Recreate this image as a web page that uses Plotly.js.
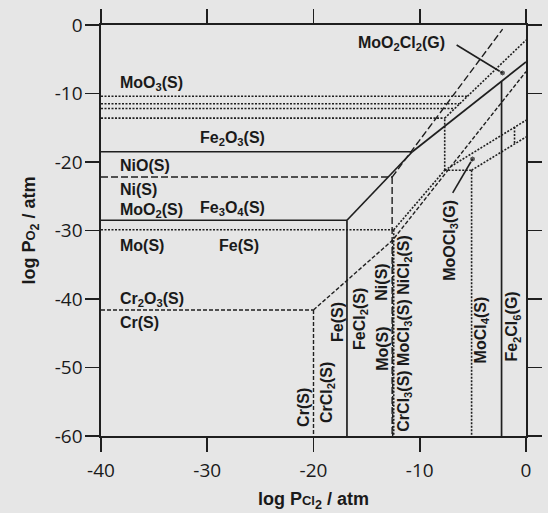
<!DOCTYPE html>
<html><head><meta charset="utf-8">
<script src="https://cdn.plot.ly/plotly-3.0.1.min.js"></script>
<style>html,body{margin:0;padding:0;background:#e6e6e6;} #chart{width:548px;height:513px;}</style>
</head><body><div id="chart"></div>
<script>
// ---- Fe system (solid lines) ----
const feHemMagX = [-40, -10.7],  feHemMagY = [-18.5, -18.5];
const feMagFeX  = [-40, -16.85], feMagFeY  = [-28.5, -28.5];
const feMagClX  = [-16.85, -10.7], feMagClY = [-28.5, -18.5];
const feHemClX  = [-10.7, -2.3, 0], feHemClY = [-18.5, -8.2, -5.4];
const feFeClX   = [-16.85, -16.85], feFeClY = [-28.5, -60];
const feClGasX  = [-2.3, -2.3], feClGasY = [-8.2, -60];
// ---- Ni system (long dashes) ----
const niOxX  = [-40, -12.6], niOxY  = [-22.2, -22.2];
const niClX  = [-12.6, -2.2], niClY = [-22.2, -0.6];
const niVX   = [-12.6, -12.6], niVY = [-22.2, -60];
// ---- Cr system (short dashes) ----
const crOxX  = [-40, -20], crOxY = [-41.6, -41.6];
const crVX   = [-20, -20], crVY  = [-41.6, -60];
const crClX  = [-20, -12.55, 0], crClY = [-41.6, -31.4, -6.8];
const crV2X  = [-12.55, -12.55], crV2Y = [-31.4, -60];
// ---- Mo system (dotted) ----
const moOxLevels = [-10.4, -11.5, -12.2, -13.6];
const moOxEnds   = [-5.5, -6.24, -6.71, -7.65];
const moMo2X  = [-40, -12.45], moMo2Y = [-29.9, -29.9];
const moCl3X  = [-12.45, -7.65], moCl3Y = [-29.9, -21.2];
const moV1X   = [-7.65, -7.65], moV1Y = [-21.2, -13.6];
const moO2Cl2X = [-7.65, 0], moO2Cl2Y = [-13.6, -2.2];
const moVMoX  = [-12.45, -12.45], moVMoY = [-29.9, -60];
const moHX    = [-7.65, -5.12], moHY = [-21.2, -21.2];
const moV2X   = [-5.12, -5.12], moV2Y = [-21.2, -60];
const moUp1X  = [-7.65, 0], moUp1Y = [-21.2, -13.9];
const moUp2X  = [-5.12, 0], moUp2Y = [-21.2, -16.35];
const moShortX = [-1.08, -1.08], moShortY = [-14.9, -17.3];
// ---- leader lines ----
const leadAX = [-6.53, -2.21], leadAY = [-2.92, -7.0];
const leadBX = [-6.9, -5.03],  leadBY = [-24.5, -19.56];
// ---- labels ----
const hLabels = ['MoO<sub>3</sub>(S)','Fe<sub>2</sub>O<sub>3</sub>(S)','NiO(S)','Ni(S)','MoO<sub>2</sub>(S)','Fe<sub>3</sub>O<sub>4</sub>(S)','Mo(S)','Fe(S)','Cr<sub>2</sub>O<sub>3</sub>(S)','Cr(S)','MoO<sub>2</sub>Cl<sub>2</sub>(G)'];
const hLabelX = [-38.36,-30.85,-38.36,-38.36,-38.36,-30.85,-38.36,-29.1,-38.36,-38.36,-16.0];
const hLabelY = [-8.47,-16.64,-20.44,-23.95,-27.05,-26.75,-32.2,-32.2,-40.0,-43.5,-2.63];
const vLabels = ['Cr(S)','CrCl<sub>2</sub>(S)','Fe(S)','FeCl<sub>2</sub>(S)','Mo(S)','Ni(S)','CrCl<sub>3</sub>(S) MoCl<sub>3</sub>(S) NiCl<sub>2</sub>(S)','MoOCl<sub>3</sub>(G)','MoCl<sub>4</sub>(S)','Fe<sub>2</sub>Cl<sub>6</sub>(G)'];
const vLabelX = [-21.0,-18.73,-17.79,-15.63,-13.57,-13.57,-11.41,-7.18,-4.18,-1.27];
const vLabelY = [-55.77,-53.58,-43.36,-42.92,-47.3,-37.5,-45.1,-31.4,-44.5,-44.1];
const xTicks = [-40,-30,-20,-10,0];
const xTickText = ['-40','-30','-20','-10','0'];
const yTicks = [0,-10,-20,-30,-40,-50,-60];
const yTickText = ['0','-10','-20','-30','-40','-50','-60'];

const ink = '#1f1f1f';
const solid = {color: ink, width: 1.7};
const longDash = {color: ink, width: 1.4, dash: '7px,3px'};
const shortDash = {color: ink, width: 1.4, dash: '4px,2px'};
const dotted = {color: ink, width: 1.6, dash: '2px,1.5px'};

const traces = [];
function seg(x, y, line){ traces.push({type:'scatter', mode:'lines', x:x, y:y, line:line, hoverinfo:'skip', showlegend:false}); }
seg(feHemMagX, feHemMagY, solid); seg(feMagFeX, feMagFeY, solid); seg(feMagClX, feMagClY, solid);
seg(feHemClX, feHemClY, solid); seg(feFeClX, feFeClY, solid); seg(feClGasX, feClGasY, solid);
seg(niOxX, niOxY, longDash); seg(niClX, niClY, longDash); seg(niVX, niVY, longDash);
seg(crOxX, crOxY, shortDash); seg(crVX, crVY, shortDash); seg(crClX, crClY, shortDash); seg(crV2X, crV2Y, shortDash);
moOxLevels.forEach((lv, i) => seg([-40, moOxEnds[i]], [lv, lv], dotted));
seg(moMo2X, moMo2Y, dotted); seg(moCl3X, moCl3Y, dotted); seg(moV1X, moV1Y, dotted); seg(moO2Cl2X, moO2Cl2Y, dotted);
seg(moVMoX, moVMoY, dotted); seg(moHX, moHY, dotted); seg(moV2X, moV2Y, dotted);
seg(moUp1X, moUp1Y, dotted); seg(moUp2X, moUp2Y, dotted); seg(moShortX, moShortY, dotted);
[[leadAX, leadAY],[leadBX, leadBY]].forEach(([x,y]) => traces.push({type:'scatter', mode:'lines+markers', x:x, y:y,
  line:{color:ink, width:1.6}, marker:{size:[0,6], color:ink}, hoverinfo:'skip', showlegend:false}));

const lblFont = {family:'Liberation Sans, Arial, sans-serif', size:16, color:'#1a1a1a'};
const annotations = [];
hLabels.forEach((t,i) => annotations.push({x:hLabelX[i], y:hLabelY[i], xref:'x', yref:'y', text:'<b>'+t+'</b>', showarrow:false, xanchor:'left', yanchor:'middle', font:lblFont}));
vLabels.forEach((t,i) => annotations.push({x:vLabelX[i], y:vLabelY[i], xref:'x', yref:'y', text:'<b>'+t+'</b>', showarrow:false, textangle:-90, xanchor:'center', yanchor:'middle', font:lblFont}));

const tickFont = {family:'Open Sans, Noto Sans, sans-serif', size:19, color:'#1a1a1a'};
const titleFont = {family:'Liberation Sans, Arial, sans-serif', size:18, color:'#1a1a1a'};
const axisCommon = {showline:true, linecolor:ink, linewidth:1.6, mirror:'ticks', ticks:'outside', ticklen:14, tickwidth:1.6, tickcolor:ink,
  showgrid:false, zeroline:false, tickfont:tickFont};

const layout = {
  width:548, height:513, margin:{l:100.5, r:21.5, t:25, b:77},
  paper_bgcolor:'#e6e6e6', plot_bgcolor:'#e6e6e6', showlegend:false,
  xaxis: Object.assign({}, axisCommon, {range:[-40,0], tickvals:xTicks, ticktext:xTickText, ticklabelstandoff:3,
    title:{text:'<b>log P<span style="font-size:13px">Cl</span><sub>2</sub> / atm</b>', font:titleFont, standoff:10}}),
  yaxis: Object.assign({}, axisCommon, {range:[-60,0], tickvals:yTicks, ticktext:yTickText, ticklabelstandoff:-1,
    title:{text:'<b>log P<span style="font-size:13px">O</span><sub>2</sub> / atm</b>', font:titleFont, standoff:14}}),
  annotations: annotations
};
Plotly.newPlot('chart', traces, layout, {displayModeBar:false, staticPlot:true});
</script></body></html>
